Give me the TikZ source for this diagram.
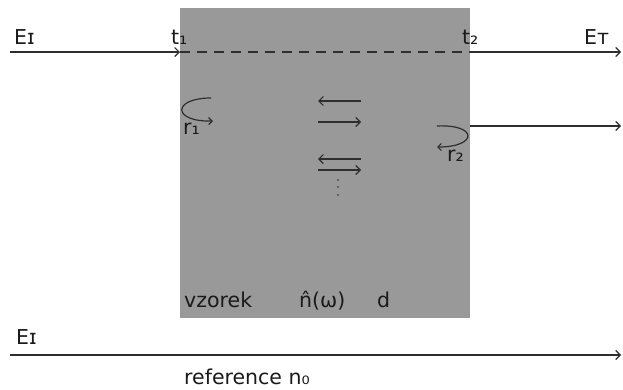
\documentclass[tikz,border=0pt]{standalone}
\usepackage{fontspec}
\setmainfont{DejaVu Sans}
\usetikzlibrary{arrows.meta}
\definecolor{sample}{HTML}{999999}
\definecolor{ink}{HTML}{2E2E2E}
\definecolor{txt}{HTML}{1A1A1A}
\tikzset{
  lab/.style={anchor=base west, inner sep=0pt, text=txt, font=\fontsize{20.5}{24}\selectfont},
  ray/.style={draw=ink, line width=1.1pt, -{Straight Barb[length=4.5pt,width=9pt]}},
  plain/.style={draw=ink, line width=1.1pt},
  refl/.style={draw=ink, line width=1.2pt, -{Straight Barb[length=3.5pt,width=7pt]}},
}
\begin{document}
\begin{tikzpicture}[x=1pt,y=-1pt]
\useasboundingbox (0,0) rectangle (623,389);
% sample block
\fill[sample] (180,8) rectangle (470,318);
% coordinates
\coordinate (inL) at (10,52);
\coordinate (f1) at (180,52);
\coordinate (f2) at (470,52);
\coordinate (outT) at (621,52);
\coordinate (f2b) at (470,126);
\coordinate (outR) at (621,126);
\coordinate (refL) at (10,355);
\coordinate (refR) at (621,355);
% top ray
\draw[ray] (inL) -- (f1);
\draw[plain, dash pattern=on 10pt off 7pt] (f1) -- (f2);
\draw[ray] (f2) -- (outT);
% second transmitted ray
\draw[ray] (f2b) -- (outR);
% reference ray
\draw[ray] (refL) -- (refR);
% reflection loops
\draw[refl] (211,98) .. controls (172,98) and (172,122) .. (213,121);
\draw[refl] (437,126) .. controls (478,124) and (478,147) .. (437,147);
% internal arrows
\coordinate (a1r) at (361,101); \coordinate (a1l) at (318,101);
\coordinate (a2l) at (318,122); \coordinate (a2r) at (361,122);
\coordinate (a3r) at (361,159); \coordinate (a3l) at (318,159);
\coordinate (a4l) at (318,170); \coordinate (a4r) at (361,170);
\draw[ray] (a1r) -- (a1l);
\draw[ray] (a2l) -- (a2r);
\draw[ray] (a3r) -- (a3l);
\draw[ray] (a4l) -- (a4r);
\foreach \yy in {180,187,195} \fill[ink] (338,\yy) circle (0.8pt);
% labels
\node[lab] (EI) at (14,44) {Eɪ};
\node[lab] (t1) at (171,44) {t₁};
\node[lab] (t2) at (462,44) {t₂};
\node[lab] (ET) at (584,44) {Eᴛ};
\node[lab] (r1) at (183,134) {r₁};
\node[lab] (r2) at (447,161) {r₂};
\node[lab] (vz) at (184,307) {vzorek};
\node[lab] (nw) at (299,307) {n̂(ω)};
\node[lab] (dd) at (377,307) {d};
\node[lab] (EI2) at (16,344) {Eɪ};
\node[lab] (ref) at (184,384) {reference n₀};
\end{tikzpicture}
\end{document}
